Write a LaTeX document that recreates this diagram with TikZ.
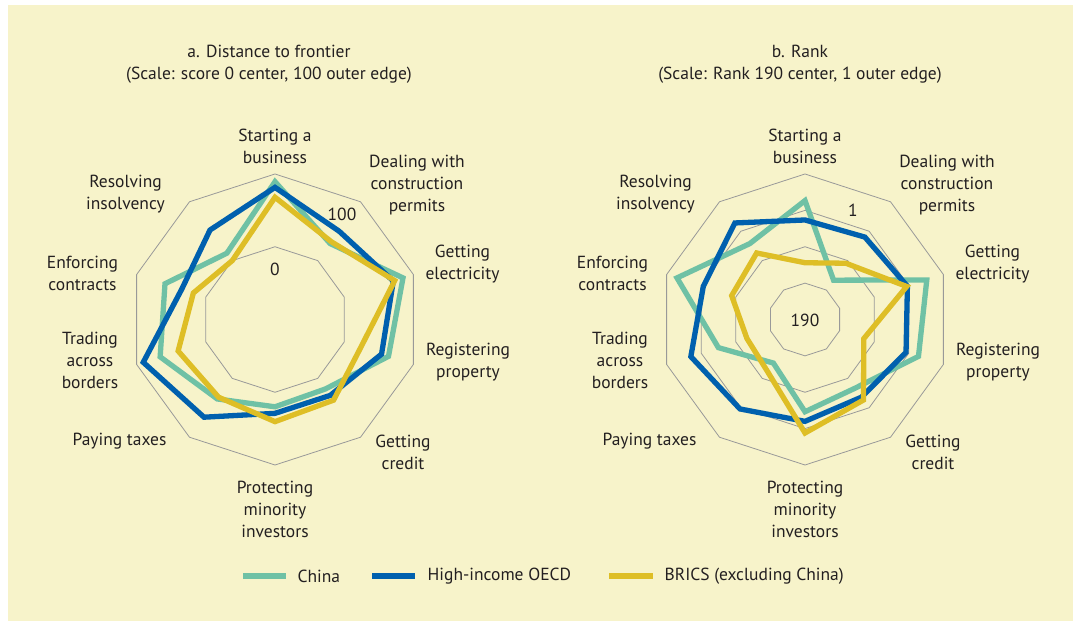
\documentclass[tikz,border=0pt]{standalone}
\usepackage{fontspec}
\setmainfont{PT Sans}
\usetikzlibrary{positioning}
\definecolor{bg}{RGB}{247,243,202}
\definecolor{china}{RGB}{111,193,165}
\definecolor{oecd}{RGB}{0,96,174}
\definecolor{brics}{RGB}{222,190,38}
\definecolor{txt}{RGB}{35,31,32}
\tikzset{
 ring/.style
  = {draw=gray!80, line width=0.8pt},
 series/.style
  = {line width=5.3pt, line join=miter},
 lbl/.style
  = {align=center, text=txt, inner sep=0pt,
     font=\fontsize{17.5}{22}\selectfont},
 key/.style
  = {line width=5.3pt},
}
\newcommand{\R}{145.5}

\begin{document}
\begin{tikzpicture}[x=1pt, y=1pt]

% Background
\useasboundingbox (0,0) rectangle (1073,621);
\fill[bg] (8,0) rectangle (1073,616);

% Chart a
\begin{scope}[shift={(275,301.5)}]
\foreach \s in {0.5,1}
  \draw[ring] (90:\s*\R) \foreach \k in {1,...,9} { -- (90+36*\k:\s*\R) } -- cycle;
\draw[series,china] (90:0.947*\R)
  \foreach \a/\r in {54/0.645,18/0.925,-18/0.82,-54/0.59,-90/0.60,-126/0.675,-162/0.83,162/0.795,126/0.563}
  { -- (\a:\r*\R) } -- cycle;
\draw[series,oecd] (90:0.908*\R)
  \foreach \a/\r in {54/0.75,18/0.855,-18/0.77,-54/0.645,-90/0.645,-126/0.83,-162/0.952,162/0.674,126/0.76}
  { -- (\a:\r*\R) } -- cycle;
\draw[series,brics] (90:0.84*\R)
  \foreach \a/\r in {54/0.66,18/0.865,-18/0.62,-54/0.685,-90/0.702,-126/0.66,-162/0.70,162/0.59,126/0.50}
  { -- (\a:\r*\R) } -- cycle;
\node[lbl] (ta) at (-6,255.5) {a. Distance to frontier\\(Scale: score 0 center, 100 outer edge)};
\node[lbl] (za) at (0,50.5) {0};
\node[lbl] (ha) at (67,105.5) {100};
\node[lbl] (sa) at (0,173.5) {Starting a\\business};
\node[lbl] (da) at (142,134.5) {Dealing with\\construction\\permits};
\node[lbl] (ea) at (187.5,55.5) {Getting\\electricity};
\node[lbl] (ra) at (193,-42.5) {Registering\\property};
\node[lbl] (ca) at (128,-133) {Getting\\credit};
\node[lbl] (pa) at (0,-189.5) {Protecting\\minority\\investors};
\node[lbl] (xa) at (-155.5,-121.5) {Paying taxes};
\node[lbl] (ba) at (-185,-40.5) {Trading\\across\\borders};
\node[lbl] (fa) at (-192.5,46.5) {Enforcing\\contracts};
\node[lbl] (ia) at (-149.5,125.5) {Resolving\\insolvency};
\end{scope}

% Chart b
\begin{scope}[shift={(805,301.5)}]
\foreach \s in {0.25,0.5,0.75,1}
  \draw[ring] (90:\s*\R) \foreach \k in {1,...,9} { -- (90+36*\k:\s*\R) } -- cycle;
\draw[series,china] (90:0.817*\R)
  \foreach \a/\r in {54/0.334,18/0.88,-18/0.82,-54/0.584,-90/0.634,-126/0.37,-162/0.626,162/0.925,126/0.645}
  { -- (\a:\r*\R) } -- cycle;
\draw[series,oecd] (90:0.684*\R)
  \foreach \a/\r in {54/0.70,18/0.74,-18/0.73,-54/0.66,-90/0.70,-126/0.76,-162/0.825,162/0.735,126/0.82}
  { -- (\a:\r*\R) } -- cycle;
\draw[series,brics] (90:0.39*\R)
  \foreach \a/\r in {54/0.478,18/0.735,-18/0.425,-54/0.684,-90/0.78,-126/0.44,-162/0.42,162/0.53,126/0.565}
  { -- (\a:\r*\R) } -- cycle;
\node[lbl] (tb) at (-5,255.5) {b. Rank\\(Scale: Rank 190 center, 1 outer edge)};
\node[lbl] (zb) at (0,-1) {190};
\node[lbl] (hb) at (48,109.5) {1};
\node[lbl] (sb) at (0,173.5) {Starting a\\business};
\node[lbl] (db) at (142,134.5) {Dealing with\\construction\\permits};
\node[lbl] (eb) at (187.5,55.5) {Getting\\electricity};
\node[lbl] (rb) at (193,-42.5) {Registering\\property};
\node[lbl] (cb) at (128,-133) {Getting\\credit};
\node[lbl] (pb) at (0,-189.5) {Protecting\\minority\\investors};
\node[lbl] (xb) at (-155.5,-121.5) {Paying taxes};
\node[lbl] (bb) at (-185,-40.5) {Trading\\across\\borders};
\node[lbl] (fb) at (-192.5,46.5) {Enforcing\\contracts};
\node[lbl] (ib) at (-149.5,125.5) {Resolving\\insolvency};
\end{scope}

% Legend
\draw[key,china] (243,45) -- ++(43,0) node[lbl,right=9pt] (kc) {China};
\draw[key,oecd] (372,45) -- ++(43,0) node[lbl,right=10pt] (ko) {High-income OECD};
\draw[key,brics] (609,45) -- ++(44,0) node[lbl,right=9pt] (kb) {BRICS (excluding China)};

\end{tikzpicture}
\end{document}
